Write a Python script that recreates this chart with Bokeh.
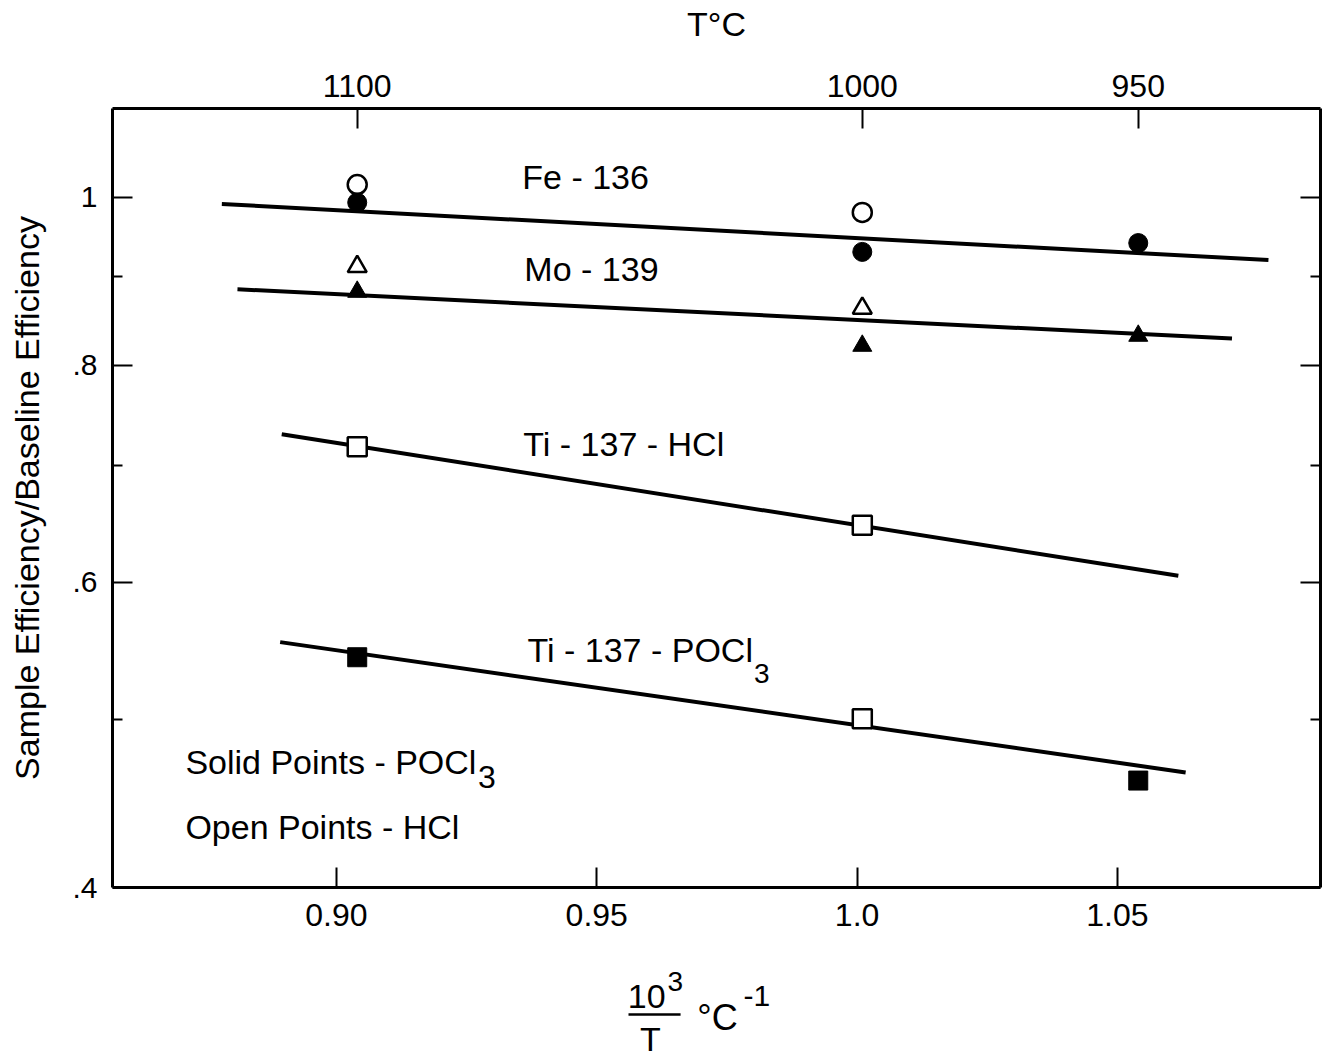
from bokeh.plotting import figure
from bokeh.layouts import column
from bokeh.models import FixedTicker, LinearAxis, LogAxis, Label
from bokeh.core.properties import value
from bokeh.embed import file_html
from bokeh.resources import INLINE

FONT = "Liberation Sans"

# ---------------- data ----------------
inv_T = [0.904, 1.001, 1.054]            # 10^3/T positions of the three temperatures
temp_labels = ["1100", "1000", "950"]     # T in deg C (top axis)

bottom_ticks = [0.90, 0.95, 1.0, 1.05]
bottom_labels = ["0.90", "0.95", "1.0", "1.05"]
y_ticks = [0.4, 0.6, 0.8, 1.0]
y_tick_labels = [".4", ".6", ".8", "1"]
y_minor = [0.5, 0.7, 0.9]

# Fe-136
fe_open_x = [0.904, 1.001]
fe_open_y = [1.017, 0.980]
fe_solid_x = [0.904, 1.001, 1.054]
fe_solid_y = [0.993, 0.930, 0.941]
fe_fit_x = [0.878, 1.079]
fe_fit_y = [0.991, 0.920]

# Mo-139
mo_open_x = [0.904, 1.001]
mo_open_y = [0.912, 0.863]
mo_solid_x = [0.904, 1.001, 1.054]
mo_solid_y = [0.882, 0.821, 0.832]
mo_fit_x = [0.881, 1.072]
mo_fit_y = [0.885, 0.829]

# Ti-137 - HCl
tih_open_x = [0.904, 1.001]
tih_open_y = [0.718, 0.647]
tih_fit_x = [0.8895, 1.0617]
tih_fit_y = [0.730, 0.605]

# Ti-137 - POCl3
tip_solid_x = [0.904, 1.054]
tip_solid_y = [0.543, 0.461]
tip_open_x = [1.001]
tip_open_y = [0.5005]
tip_fit_x = [0.8892, 1.0631]
tip_fit_y = [0.554, 0.466]

# ---------------- main figure ----------------
p = figure(width=1329, height=965,
           x_range=(0.857, 1.089), y_range=(0.4, 1.125),
           y_axis_type="log",
           output_backend="svg", toolbar_location=None,
           min_border_left=112, min_border_right=9,
           min_border_top=108, min_border_bottom=78)
p.xgrid.visible = False
p.ygrid.visible = False
p.outline_line_color = None
p.background_fill_color = "white"
p.border_fill_color = "white"


def style_axis(ax, size):
    ax.axis_line_color = "black"
    ax.axis_line_width = 3
    ax.major_tick_in = 20
    ax.major_tick_out = 0
    ax.major_tick_line_color = "black"
    ax.major_tick_line_width = 2
    ax.minor_tick_in = 10
    ax.minor_tick_out = 0
    ax.minor_tick_line_color = "black"
    ax.minor_tick_line_width = 2
    ax.major_label_text_font = FONT
    ax.major_label_text_font_size = size
    ax.major_label_text_color = "black"
    ax.axis_label_text_font = FONT
    ax.axis_label_text_font_style = "normal"
    ax.axis_label_text_color = "black"


# bottom axis
xb = p.xaxis[0]
style_axis(xb, "32px")
xb.ticker = FixedTicker(ticks=bottom_ticks)
xb.major_label_overrides = dict(zip(bottom_ticks, bottom_labels))
xb.minor_tick_line_color = None
xb.major_label_standoff = 16

# left axis
yl = p.yaxis[0]
style_axis(yl, "30px")
yl.ticker = FixedTicker(ticks=y_ticks, minor_ticks=y_minor)
yl.major_label_overrides = dict(zip(y_ticks, y_tick_labels))
yl.major_label_standoff = 15
yl.axis_label = "Sample Efficiency/Baseline Efficiency"
yl.axis_label_text_font_size = "34px"
yl.axis_label_standoff = 23

# top axis (temperature)
xt = LinearAxis(ticker=FixedTicker(ticks=inv_T))
style_axis(xt, "32px")
xt.major_label_overrides = dict(zip(inv_T, temp_labels))
xt.minor_tick_line_color = None
xt.major_label_standoff = 12
xt.axis_label = "T°C"
xt.axis_label_text_font_size = "34px"
xt.axis_label_standoff = 29
p.add_layout(xt, "above")

# right axis (ticks only)
yr = LogAxis(ticker=FixedTicker(ticks=y_ticks, minor_ticks=y_minor))
style_axis(yr, "30px")
yr.major_label_overrides = {t: "" for t in y_ticks}
yr.major_label_standoff = 0
p.add_layout(yr, "right")

# ---------------- fitted lines ----------------
for fx, fy in [(fe_fit_x, fe_fit_y), (mo_fit_x, mo_fit_y),
               (tih_fit_x, tih_fit_y), (tip_fit_x, tip_fit_y)]:
    p.line(fx, fy, line_color="black", line_width=4)

# ---------------- points ----------------
MS = 19
open_kw = dict(size=MS, fill_color="white", line_color="black", line_width=2.5)
solid_kw = dict(size=MS, fill_color="black", line_color="black", line_width=1)

p.scatter(fe_open_x, fe_open_y, marker="circle", **open_kw)
p.scatter(fe_solid_x, fe_solid_y, marker="circle", **solid_kw)
p.scatter(mo_open_x, mo_open_y, marker="triangle", **open_kw)
p.scatter(mo_solid_x, mo_solid_y, marker="triangle", **solid_kw)
p.scatter(tih_open_x, tih_open_y, marker="square", **open_kw)
p.scatter(tip_open_x, tip_open_y, marker="square", **open_kw)
p.scatter(tip_solid_x, tip_solid_y, marker="square", **solid_kw)


# ---------------- in-plot texts ----------------
def lab(x, y, text, size="34px"):
    p.add_layout(Label(x=x, y=y, text=text, text_font=FONT, text_font_size=size,
                       text_color="black", text_align="left",
                       text_baseline="middle"))


lab(0.9357, 1.0266, "Fe - 136")
lab(0.9361, 0.9097, "Mo - 139")
lab(0.9359, 0.7202, "Ti - 137 - HCl")
lab(0.9367, 0.5479, "Ti - 137 - POCl")
lab(0.9802, 0.5314, "3", size="28px")
lab(0.8710, 0.4728, "Solid Points - POCl")
lab(0.9272, 0.4629, "3", size="32px")
lab(0.8710, 0.4337, "Open Points - HCl")

# ---------------- x-axis title strip: 10^3 / T  °C^-1 ----------------
q = figure(width=1329, height=93, x_range=p.x_range, y_range=(0, 93),
           output_backend="svg", toolbar_location=None,
           min_border_left=112, min_border_right=9,
           min_border_top=0, min_border_bottom=0)
q.axis.visible = False
q.grid.visible = False
q.outline_line_color = None
q.background_fill_color = "white"
q.border_fill_color = "white"

title_x = [0.9596, 0.9636, 0.9603, 0.9693, 0.9782]
title_y = [62, 77, 20, 41, 63]
title_txt = ["10", "3", "T", "°C", "-1"]
title_size = ["34px", "28px", "34px", "36px", "30px"]
title_align = ["center", "left", "center", "left", "left"]
for tx, ty, tt, ts, ta in zip(title_x, title_y, title_txt, title_size, title_align):
    q.text(x=[tx], y=[ty], text=[tt], text_font=value(FONT), text_font_size=ts,
           text_align=ta, text_baseline="middle", text_color="black")
q.line([0.9561, 0.9661], [44, 44], line_color="black", line_width=2.5)

layout = column(p, q, spacing=0)
open("out.html", "w").write(file_html(layout, INLINE))
